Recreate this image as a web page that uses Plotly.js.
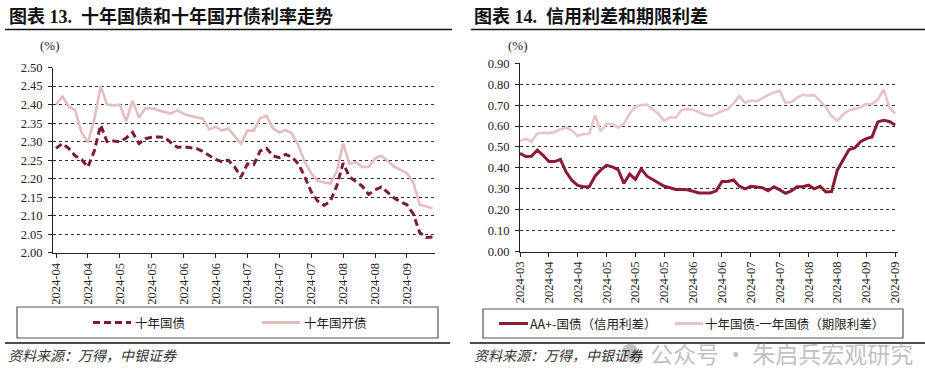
<!DOCTYPE html>
<html>
<head>
<meta charset="utf-8">
<script src="https://cdn.plot.ly/plotly-3.0.1.min.js"></script>
<style>
  html, body { margin: 0; padding: 0; background: #fff; }
  #chart { width: 925px; height: 390px; }
</style>
</head>
<body>
<div id="chart"></div>
<script>
// ---------------- DATA ----------------
// Left chart: 十年国债 / 十年国开债 (%), one value every 2 trading days
const leftTickLabels = ['2024-04','2024-04','2024-05','2024-05','2024-06','2024-06','2024-07','2024-07','2024-07','2024-08','2024-08','2024-09'];
const cgb10 = [2.282,2.295,2.282,2.262,2.252,2.232,2.275,2.345,2.300,2.302,
               2.300,2.310,2.325,2.295,2.308,2.312,2.313,2.312,2.298,2.285,
               2.286,2.284,2.282,2.274,2.262,2.252,2.246,2.250,2.232,2.205,
               2.240,2.238,2.275,2.282,2.262,2.257,2.266,2.258,2.240,2.205,
               2.165,2.140,2.128,2.140,2.180,2.242,2.205,2.192,2.180,2.158,
               2.170,2.178,2.162,2.148,2.138,2.130,2.105,2.055,2.042,2.043];
const cdb10 = [2.400,2.422,2.395,2.385,2.325,2.298,2.360,2.450,2.400,2.398,
               2.400,2.355,2.410,2.365,2.390,2.390,2.385,2.380,2.376,2.385,
               2.375,2.370,2.366,2.362,2.333,2.340,2.330,2.336,2.315,2.295,
               2.330,2.330,2.364,2.370,2.336,2.325,2.332,2.322,2.290,2.245,
               2.215,2.195,2.190,2.187,2.220,2.295,2.240,2.245,2.232,2.232,
               2.255,2.262,2.248,2.233,2.224,2.215,2.190,2.130,2.126,2.120];
const leftNames = ['十年国债', '十年国开债'];

// Right chart: 信用利差 / 期限利差 (%)
const rightTickLabels = ['2024-03','2024-04','2024-04','2024-05','2024-05','2024-05','2024-06','2024-06','2024-07','2024-07','2024-08','2024-08','2024-09','2024-09'];
const creditSpread = [0.470,0.454,0.455,0.485,0.460,0.430,0.430,0.440,0.380,0.340,
                      0.316,0.310,0.310,0.360,0.390,0.412,0.405,0.392,0.326,0.370,
                      0.345,0.395,0.360,0.345,0.330,0.312,0.305,0.297,0.297,0.295,
                      0.288,0.280,0.280,0.280,0.290,0.335,0.335,0.342,0.312,0.300,
                      0.312,0.308,0.305,0.290,0.310,0.295,0.278,0.290,0.310,0.310,
                      0.317,0.300,0.312,0.285,0.287,0.390,0.437,0.487,0.495,0.525,
                      0.540,0.548,0.620,0.628,0.622,0.605];
const termSpread = [0.528,0.540,0.525,0.565,0.568,0.566,0.572,0.585,0.592,0.580,
                    0.552,0.562,0.562,0.652,0.575,0.610,0.610,0.592,0.610,0.660,
                    0.693,0.700,0.703,0.680,0.658,0.625,0.642,0.640,0.678,0.680,
                    0.678,0.666,0.655,0.648,0.658,0.672,0.680,0.708,0.743,0.712,
                    0.722,0.718,0.735,0.748,0.760,0.768,0.712,0.715,0.735,0.750,
                    0.745,0.748,0.720,0.690,0.648,0.625,0.655,0.675,0.682,0.690,
                    0.705,0.706,0.725,0.775,0.690,0.660];
const rightNames = ['AA+-国债（信用利差）', '十年国债-一年国债（期限利差）'];

// ---------------- STYLE ----------------
const W = 925, H = 390;
const px = x => x / W;
const py = y => 1 - y / H;
const DARK = '#7D1B36', DARK2 = '#8A1B33', PINK = '#E4BDBE', PINK2 = '#E8C4C7';
const tickFont = {family: 'Liberation Serif, Times New Roman, serif', size: 12.5, color: '#222'};
const cjk = 'Liberation Serif, Noto Sans CJK SC, sans-serif';

const idx = (arr, step) => arr.map((_, i) => i * step);

const traces = [
  {x: idx(cdb10, 2), y: cdb10, xaxis: 'x', yaxis: 'y', name: leftNames[1], mode: 'lines',
   line: {color: PINK, width: 2.6}},
  {x: idx(cgb10, 2), y: cgb10, xaxis: 'x', yaxis: 'y', name: leftNames[0], mode: 'lines',
   line: {color: DARK, width: 3, dash: '7px,4px'}},
  {x: idx(termSpread, 2), y: termSpread, xaxis: 'x2', yaxis: 'y2', name: rightNames[1], mode: 'lines',
   line: {color: PINK2, width: 2.6}},
  {x: idx(creditSpread, 2), y: creditSpread, xaxis: 'x2', yaxis: 'y2', name: rightNames[0], mode: 'lines',
   line: {color: DARK2, width: 3}}
];

const axX = {
  showgrid: false, zeroline: false, showline: true, linecolor: '#222', linewidth: 1,
  ticks: 'outside', ticklen: 4, tickcolor: '#222', tickangle: -90, tickfont: tickFont, fixedrange: true
};
const axY = {
  showgrid: true, gridcolor: '#333', gridwidth: 1, griddash: 'dot', zeroline: false,
  showline: true, linecolor: '#222', linewidth: 1, ticks: 'outside', ticklen: 4, tickcolor: '#222',
  tickformat: '.2f', tickfont: tickFont, fixedrange: true, ticklabelstandoff: 3
};

const layout = {
  width: W, height: H, margin: {l: 0, r: 0, t: 0, b: 0},
  paper_bgcolor: '#fff', plot_bgcolor: '#fff', showlegend: false,
  xaxis: Object.assign({}, axX, {domain: [px(53), px(435)], range: [-0.94, 118.8],
    tickvals: leftTickLabels.map((_, i) => i * 10), ticktext: leftTickLabels, anchor: 'y'}),
  yaxis: Object.assign({}, axY, {domain: [py(253), py(67.5)], range: [1.9999, 2.5001],
    tick0: 2.0, dtick: 0.05, anchor: 'x'}),
  xaxis2: Object.assign({}, axX, {domain: [px(520), px(898)], range: [0, 131],
    tickvals: rightTickLabels.map((_, i) => i * 10), ticktext: rightTickLabels, anchor: 'y2'}),
  yaxis2: Object.assign({}, axY, {domain: [py(251.5), py(63.3)], range: [-0.0001, 0.9001],
    tick0: 0, dtick: 0.1, anchor: 'x2'}),
  shapes: [],
  annotations: []
};

function hline(x0, x1, y, color, width, dash) {
  layout.shapes.push({type: 'line', xref: 'paper', yref: 'paper', x0: px(x0), x1: px(x1), y0: py(y), y1: py(y),
    line: {color: color, width: width, dash: dash || 'solid'}});
}
function rect(x0, x1, y0, y1, color) {
  layout.shapes.push({type: 'rect', xref: 'paper', yref: 'paper', x0: px(x0), x1: px(x1), y0: py(y1), y1: py(y0),
    line: {color: color, width: 1.2}, fillcolor: 'rgba(0,0,0,0)'});
}
function text(x, y, t, font, xanchor) {
  layout.annotations.push({xref: 'paper', yref: 'paper', x: px(x), y: py(y), text: t, showarrow: false,
    xanchor: xanchor || 'left', yanchor: 'middle', font: font});
}

// rules
hline(5, 452, 29.5, '#111', 1.5);
hline(471, 925, 29.5, '#111', 1.5);
hline(5, 450, 343, '#111', 1.5);
hline(470, 925, 343, '#111', 1.5);

// titles
const titleFont = {family: cjk, size: 18, color: '#111', weight: 'bold'};
text(7, 17, '<b>图表 13.  十年国债和十年国开债利率走势</b>', titleFont);
text(472, 17, '<b>图表 14.  信用利差和期限利差</b>', titleFont);

// unit labels
const unitFont = {family: 'Liberation Serif, serif', size: 13, color: '#222'};
text(50, 45, '(%)', unitFont, 'center');
text(518, 45, '(%)', unitFont, 'center');

// legends
const legFont = {family: 'Noto Sans CJK SC, sans-serif', size: 12.5, color: '#222'};
rect(17, 438, 307, 338, '#555');
hline(93, 131, 322.5, DARK, 3, '7px,4px');
text(133, 322.5, leftNames[0], legFont);
hline(262, 300, 322.5, PINK, 3);
text(302, 322.5, leftNames[1], legFont);

rect(483, 903, 309, 338, '#555');
hline(499, 528, 323.5, DARK2, 3);
text(528, 323.5, rightNames[0], legFont);
hline(675, 703, 323.5, PINK2, 3);
text(703, 323.5, rightNames[1], legFont);

// source
const srcFont = {family: 'Noto Sans CJK SC, sans-serif', size: 14, color: '#333', style: 'italic'};
text(6, 355, '<i>资料来源：万得，中银证券</i>', srcFont);
text(472, 355, '<i>资料来源：万得，中银证券</i>', srcFont);

// watermark (kept clear of the source text)
layout.shapes.push({type: 'circle', xref: 'paper', yref: 'paper', x0: px(622), x1: px(638), y0: py(360), y1: py(344),
  fillcolor: 'rgba(140,140,140,0.55)', line: {width: 0}});
layout.shapes.push({type: 'circle', xref: 'paper', yref: 'paper', x0: px(631), x1: px(643), y0: py(364), y1: py(351),
  fillcolor: 'rgba(140,140,140,0.45)', line: {width: 0}});
text(648, 353, '公众号 · 朱启兵宏观研究', {family: 'Noto Sans CJK SC, sans-serif', size: 23, color: 'rgba(150,150,150,0.6)'});

Plotly.newPlot('chart', traces, layout, {staticPlot: true, displayModeBar: false});
</script>
</body>
</html>
